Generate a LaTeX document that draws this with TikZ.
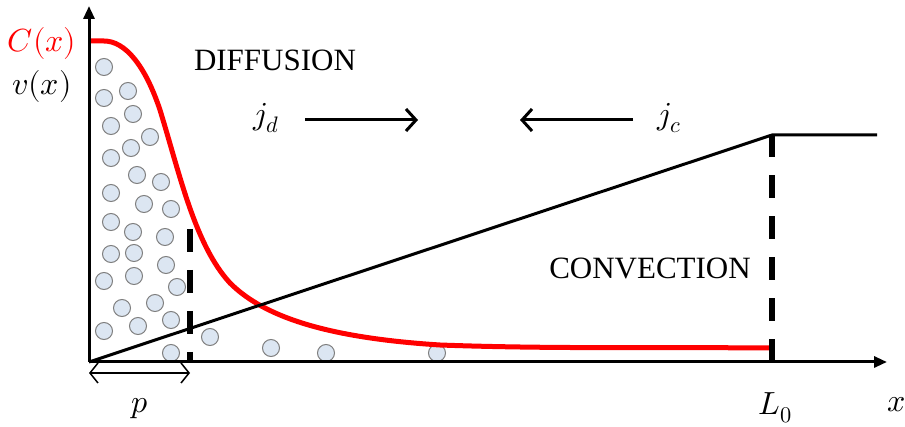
\documentclass[tikz,border=0pt]{standalone}
\usepackage{fontspec}
\usepackage{unicode-math}
\setmainfont{Liberation Serif}
\setmathfont{Latin Modern Math}
\usetikzlibrary{arrows.meta}
\definecolor{dotfill}{HTML}{DCE6F2}
\definecolor{dotdraw}{HTML}{7F7F7F}
\definecolor{cred}{HTML}{FF0000}
\tikzset{
  axis/.style={line width=3pt,-{Triangle[length=13pt,width=11pt]}},
  thinline/.style={line width=3pt},
  redcurve/.style={cred,line width=5pt},
  dashline/.style={line width=6pt,dash pattern=on 23pt off 18pt},
  flux/.style={line width=3pt,-{Straight Barb[length=10pt,width=22pt,line width=3pt]}},
  pbar/.style={line width=1.5pt,{Straight Barb[length=8pt,width=20pt]}-{Straight Barb[length=8pt,width=20pt]}},
  dot/.style={circle,draw=dotdraw,fill=dotfill,line width=1pt,minimum size=17pt,inner sep=0pt},
  mlabel/.style={font=\fontsize{32}{38}\selectfont,inner sep=0pt},
  wlabel/.style={font=\fontsize{31}{37}\selectfont,inner sep=0pt},
}
\begin{document}
\begin{tikzpicture}[x=1pt,y=-1pt]
\useasboundingbox (0,0) rectangle (905,427);
% particles
\foreach \px/\py [count=\i] in {104/67,104/98,128/91,111/126,133/114,150/137,131/148,111/158,137/175,161/182,111/193,144/204,171/209,111/222,133/232,165/237,111/254,134/253,166/265,104/281,134/276,177/287,122/308,155/303,104/331,138/326,171/320,210/337,171/353,271/348,326/353,437/353}
  \node[dot] (d\i) at (\px,\py) {};
% coordinates
\coordinate (O) at (89,362);
\coordinate (ytop) at (89,6);
\coordinate (xend) at (887,362);
\coordinate (L) at (772,135);
\coordinate (Lend) at (877,135);
\coordinate (Lbot) at (772,362);
\coordinate (pt) at (190,229);
\coordinate (pb) at (190,362);
% red concentration curve
\draw[redcurve] (91,41) -- (104,41)
  .. controls (125,41) and (145,65) .. (160,110)
  .. controls (180,175) and (195,245) .. (230,283)
  .. controls (265,318) and (330,338) .. (440,345)
  .. controls (550,349) and (650,347) .. (772,348);
% velocity profile
\draw[thinline] (O) -- (L) -- (Lend);
% dashed lines
\draw[dashline] (Lbot) -- (L);
\draw[dashline] (pt) -- (pb);
% axes
\draw[axis] (O) -- (ytop);
\draw[axis] (O) -- (xend);
% p arrow
\coordinate (pa) at (89,373);
\coordinate (pc) at (190,373);
\draw[pbar] (pa) -- (pc);
% flux arrows
\coordinate (jda) at (305,120);
\coordinate (jdb) at (418,120);
\coordinate (jca) at (633,120);
\coordinate (jcb) at (520,120);
\draw[flux] (jda) -- (jdb);
\draw[flux] (jca) -- (jcb);
% labels
\node[mlabel,text=cred] (Cx) at (42,44) {$C(x)$};
\node[mlabel] (vx) at (42,87) {$v(x)$};
\node[wlabel] (diff) at (275,60) {DIFFUSION};
\node[wlabel] (conv) at (650,268) {CONVECTION};
\node[mlabel] (jd) at (266,118) {$j_d$};
\node[mlabel] (jc) at (669,118) {$j_c$};
\node[mlabel] (p) at (140,409) {$p$};
\node[mlabel] (L0) at (775,408) {$L_0$};
\node[mlabel] (x) at (897,405) {$x$};
\end{tikzpicture}
\end{document}
